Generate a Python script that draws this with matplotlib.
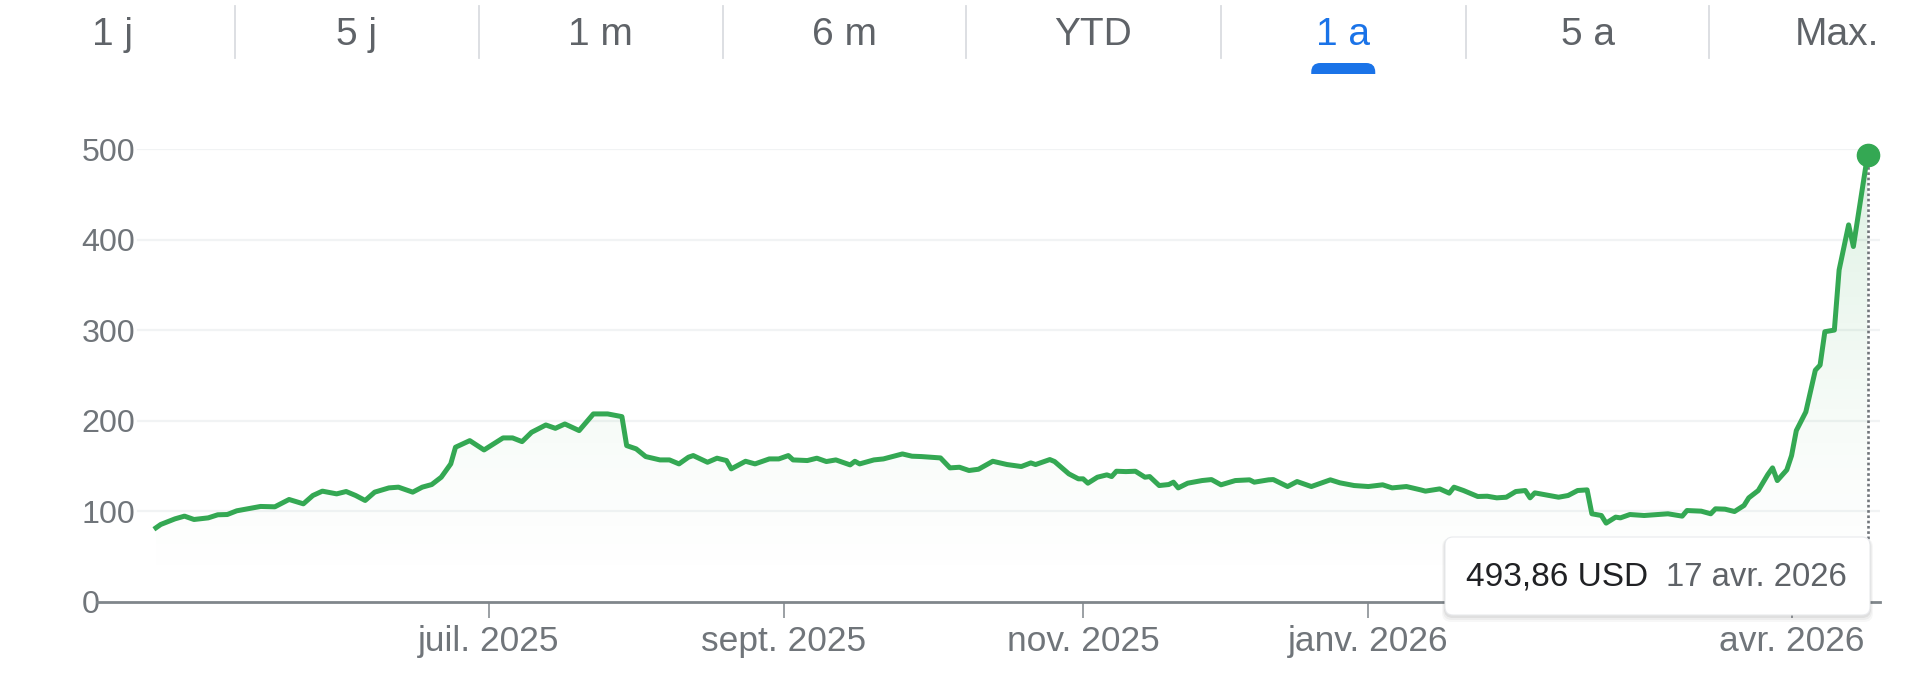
import numpy as np
import matplotlib
matplotlib.use("Agg")
import matplotlib.pyplot as plt
import matplotlib.dates as mdates
from matplotlib.patches import FancyBboxPatch, Rectangle
from matplotlib.colors import LinearSegmentedColormap

plt.rcParams['font.family'] = ['Liberation Sans', 'DejaVu Sans']

# ---- data ----
dates = [
    "2025-04-22", "2025-04-23", "2025-04-26", "2025-04-28", "2025-04-30", "2025-05-03", "2025-05-05",
    "2025-05-07", "2025-05-09", "2025-05-12", "2025-05-14", "2025-05-17", "2025-05-20", "2025-05-23",
    "2025-05-25", "2025-05-27", "2025-05-30", "2025-06-01", "2025-06-03", "2025-06-05", "2025-06-07",
    "2025-06-10", "2025-06-12", "2025-06-15", "2025-06-17", "2025-06-19", "2025-06-21", "2025-06-23",
    "2025-06-24", "2025-06-27", "2025-06-30", "2025-07-02", "2025-07-04", "2025-07-06", "2025-07-08",
    "2025-07-10", "2025-07-13", "2025-07-15", "2025-07-17", "2025-07-19", "2025-07-20", "2025-07-23",
    "2025-07-26", "2025-07-29", "2025-07-30", "2025-08-01", "2025-08-03", "2025-08-06", "2025-08-08",
    "2025-08-10", "2025-08-12", "2025-08-13", "2025-08-16", "2025-08-18", "2025-08-20", "2025-08-21",
    "2025-08-24", "2025-08-26", "2025-08-29", "2025-08-31", "2025-09-02", "2025-09-03", "2025-09-06",
    "2025-09-08", "2025-09-10", "2025-09-12", "2025-09-15", "2025-09-16", "2025-09-17", "2025-09-20",
    "2025-09-22", "2025-09-26", "2025-09-28", "2025-09-30", "2025-10-04", "2025-10-06", "2025-10-08",
    "2025-10-10", "2025-10-12", "2025-10-15", "2025-10-18", "2025-10-21", "2025-10-23", "2025-10-24",
    "2025-10-27", "2025-10-28", "2025-10-31", "2025-11-02", "2025-11-03", "2025-11-04", "2025-11-06",
    "2025-11-08", "2025-11-09", "2025-11-10", "2025-11-12", "2025-11-14", "2025-11-16", "2025-11-17",
    "2025-11-19", "2025-11-21", "2025-11-22", "2025-11-23", "2025-11-25", "2025-11-28", "2025-11-30",
    "2025-12-02", "2025-12-05", "2025-12-08", "2025-12-09", "2025-12-12", "2025-12-13", "2025-12-16",
    "2025-12-18", "2025-12-21", "2025-12-25", "2025-12-27", "2025-12-30", "2026-01-02", "2026-01-05",
    "2026-01-07", "2026-01-10", "2026-01-13", "2026-01-14", "2026-01-17", "2026-01-19", "2026-01-20",
    "2026-01-22", "2026-01-25", "2026-01-27", "2026-01-29", "2026-01-31", "2026-02-02", "2026-02-04",
    "2026-02-05", "2026-02-06", "2026-02-09", "2026-02-11", "2026-02-13", "2026-02-15", "2026-02-17",
    "2026-02-18", "2026-02-20", "2026-02-21", "2026-02-23", "2026-02-24", "2026-02-26", "2026-03-01",
    "2026-03-04", "2026-03-06", "2026-03-09", "2026-03-10", "2026-03-13", "2026-03-15", "2026-03-16",
    "2026-03-18", "2026-03-20", "2026-03-22", "2026-03-23", "2026-03-25", "2026-03-27", "2026-03-28",
    "2026-03-29", "2026-03-31", "2026-04-01", "2026-04-02", "2026-04-04", "2026-04-06", "2026-04-07",
    "2026-04-08", "2026-04-10", "2026-04-11", "2026-04-13", "2026-04-14", "2026-04-17",
]
prices = [
    81.6, 85.3, 91.5, 94.5, 90.8, 92.6, 96.0,
    96.3, 100.4, 103.3, 105.2, 104.8, 112.9, 108.1,
    117.3, 122.1, 119.1, 121.7, 117.3, 111.8, 121.0,
    125.7, 126.5, 121.0, 126.5, 129.4, 137.5, 152.2,
    170.6, 177.9, 167.6, 174.3, 180.9, 180.9, 176.8,
    187.1, 195.2, 191.5, 196.3, 191.5, 189.0, 207.4,
    207.4, 204.4, 172.4, 168.8, 160.3, 156.6, 156.6,
    152.2, 159.6, 161.4, 154.0, 158.5, 155.9, 146.7,
    155.1, 152.2, 157.7, 157.7, 161.4, 156.6, 155.9,
    158.5, 154.8, 156.6, 151.1, 155.1, 152.2, 156.6,
    157.7, 163.2, 160.7, 160.3, 158.8, 147.8, 148.5,
    144.9, 146.3, 155.1, 151.5, 149.3, 153.3, 151.5,
    157.0, 154.8, 141.2, 135.7, 135.7, 130.9, 137.5,
    140.1, 138.2, 144.1, 143.7, 144.1, 137.5, 138.2,
    128.3, 129.4, 132.0, 125.7, 130.9, 133.8, 134.9,
    129.1, 133.8, 134.6, 132.0, 134.6, 134.9, 127.2,
    132.7, 127.2, 134.6, 131.3, 128.3, 127.2, 129.1,
    125.7, 127.2, 123.5, 122.1, 124.6, 119.9, 126.5,
    122.8, 116.2, 116.5, 114.7, 115.4, 121.7, 122.8,
    114.7, 120.2, 117.3, 115.4, 117.3, 122.8, 123.5,
    97.1, 95.2, 86.8, 93.4, 92.6, 96.3, 95.2,
    96.3, 97.1, 94.5, 100.7, 100.0, 97.1, 102.6,
    102.2, 99.6, 106.3, 114.7, 122.8, 140.4, 147.8,
    133.8, 145.6, 161.4, 189.0, 209.6, 255.7, 261.3,
    298.2, 300.0, 366.4, 416.2, 392.3, 493.86,
]

yticks = [0, 100, 200, 300, 400, 500]
xtick_dates = ["2025-07-01", "2025-09-01", "2025-11-03", "2026-01-02", "2026-04-01"]
xtick_labels = ["juil. 2025", "sept. 2025", "nov. 2025", "janv. 2026", "avr. 2026"]
tabs = ["1 j", "5 j", "1 m", "6 m", "YTD", "1 a", "5 a", "Max."]
active_tab = "1 a"
mois = ["janv.", "févr.", "mars", "avr.", "mai", "juin", "juil.", "août", "sept.", "oct.", "nov.", "déc."]

GREEN = "#34a853"
GRAY = "#70757a"

x = mdates.datestr2num(dates)
y = np.array(prices)

W, H = 1920, 696
fig = plt.figure(figsize=(W / 100, H / 100), dpi=100)
fig.patch.set_facecolor("white")

# main chart axes: value 0 at y=601.7px, 500 at 149px
ax = fig.add_axes([97 / W, (H - 601.7) / H, (1880 - 97) / W, 452.7 / H])
t0 = mdates.datestr2num("2025-07-01")
xlim = (t0 - 82.4, t0 + 292.6)

for v in yticks[1:]:
    ax.axhline(v, xmin=0.023, xmax=1.0, color="#f1f3f4", lw=1.6, zorder=0)

# gradient fill under the line
poly = ax.fill_between(x, y, 0, color="none", lw=0)
cmap = LinearSegmentedColormap.from_list(
    "g", [(0.204, 0.659, 0.325, a) for a in 0.17 * np.linspace(0, 1, 20) ** 1.5])
grad = np.linspace(0, 1, 256).reshape(-1, 1)
im = ax.imshow(grad, extent=[x[0], x[-1], 0, 500], origin="lower",
               aspect="auto", cmap=cmap, zorder=1)
im.set_clip_path(poly.get_paths()[0], transform=ax.transData)
ax.set_xlim(*xlim)
ax.set_ylim(0, 500)

ax.plot(x, y, color=GREEN, lw=3.6, solid_joinstyle="round", zorder=3)
ax.plot([x[-1], x[-1]], [0, y[-1]], color="#70757a", lw=1.9,
        linestyle=(0, (1, 1)), zorder=2)
ax.plot(x[-1], y[-1], "o", color=GREEN, markersize=16, clip_on=False, zorder=4)

for s in ["top", "right", "left"]:
    ax.spines[s].set_visible(False)
ax.spines["bottom"].set_color("#80868b")
ax.spines["bottom"].set_linewidth(2)

ax.set_yticks(yticks)
ax.set_yticklabels([str(v) for v in yticks])
ax.tick_params(axis="y", length=0, pad=11, labelsize=23.2, labelcolor=GRAY)
for lbl in ax.get_yticklabels():
    lbl.set_horizontalalignment("left")

ax.set_xticks(mdates.datestr2num(xtick_dates))
ax.set_xticklabels(xtick_labels)
ax.tick_params(axis="x", length=11.5, width=1.1, color="#80868b", pad=5,
               labelsize=25.5, labelcolor=GRAY)
ax.patch.set_alpha(0)

# overlay in pixel units for tabs and tooltip
ov = fig.add_axes([0, 0, 1, 1])
ov.set_xlim(0, W)
ov.set_ylim(H, 0)
ov.axis("off")
ov.patch.set_alpha(0)

edges = [-9, 235, 478.8, 722.5, 966, 1220.8, 1465.7, 1709.4, 1964]
for i, t in enumerate(tabs):
    cx = (edges[i] + edges[i + 1]) / 2
    col = "#1a73e8" if t == active_tab else "#5f6368"
    ov.text(cx, 35, t, ha="center", va="center", fontsize=28, color=col)
    if t == active_tab:
        ov.add_patch(FancyBboxPatch((cx - 32, 63), 64, 22,
                                    boxstyle="round,pad=0,rounding_size=9",
                                    fc="#1a73e8", ec="none"))
        ov.add_patch(Rectangle((cx - 40, 73.5), 80, 16, fc="white", ec="none"))
for e in edges[1:-1]:
    ov.plot([e, e], [6, 58], color="#dadce0", lw=1.3)

# tooltip
bx, by, bw, bh = 1445, 537, 425, 78
for k, a in [(6, 0.03), (4, 0.04), (2, 0.06)]:
    ov.add_patch(FancyBboxPatch((bx - k / 2, by + 1), bw + k, bh + k,
                                boxstyle="round,pad=0,rounding_size=9",
                                fc=(0, 0, 0, a), ec="none"))
ov.add_patch(FancyBboxPatch((bx, by), bw, bh, boxstyle="round,pad=0,rounding_size=8",
                            fc="white", ec="#e8eaed", lw=0.8))
d = np.datetime64(dates[-1], "D").astype(object)
price_txt = f"{prices[-1]:.2f}".replace(".", ",") + " USD"
date_txt = f"{d.day} {mois[d.month - 1]} {d.year}"
ov.text(bx + 21, by + bh / 2 + 1, price_txt, ha="left", va="center",
        fontsize=24, color="#202124")
ov.text(bx + bw - 23, by + bh / 2 + 1, date_txt, ha="right", va="center",
        fontsize=23.7, color="#5f6368")

fig.savefig("out.png", dpi=100)
